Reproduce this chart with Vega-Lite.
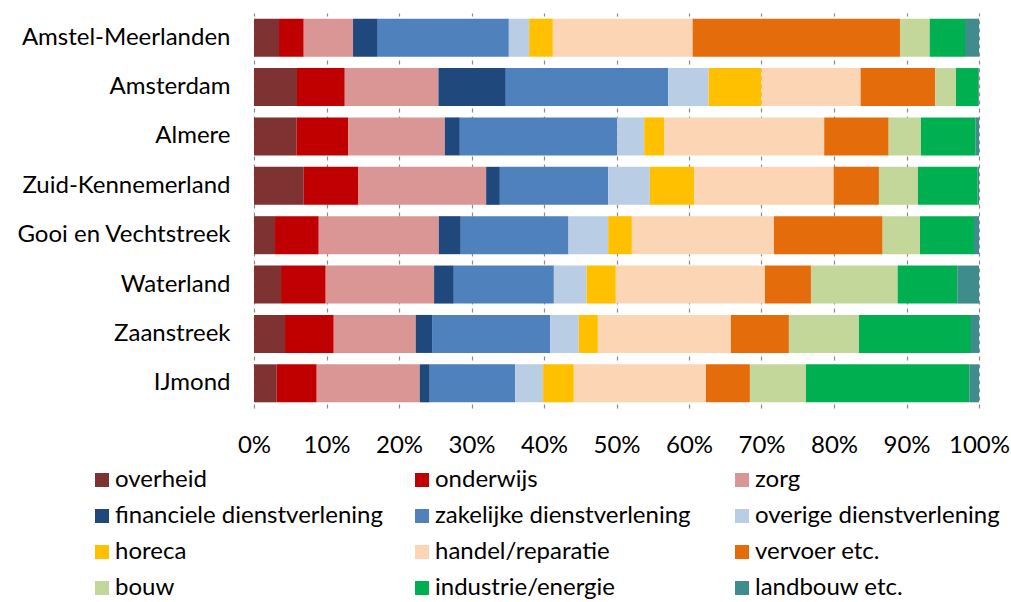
{
  "$schema": "https://vega.github.io/schema/vega-lite/v6.json",
  "autosize": {"type": "none"},
  "padding": {"left": 254, "top": 13, "right": 32, "bottom": 194},
  "width": 725,
  "height": 395,
  "background": "white",
  "config": {
    "font": "Lato",
    "view": {"stroke": null},
    "axis": {"labelFont": "Lato", "labelColor": "#000000"}
  },
  "data": {
    "values": [
      {"region": "Amstel-Meerlanden", "cat": "overheid", "k": 1, "v": 3.45},
      {"region": "Amstel-Meerlanden", "cat": "onderwijs", "k": 2, "v": 3.41},
      {"region": "Amstel-Meerlanden", "cat": "zorg", "k": 3, "v": 6.8},
      {"region": "Amstel-Meerlanden", "cat": "financiele dienstverlening", "k": 4, "v": 3.41},
      {"region": "Amstel-Meerlanden", "cat": "zakelijke dienstverlening", "k": 5, "v": 18.08},
      {"region": "Amstel-Meerlanden", "cat": "overige dienstverlening", "k": 6, "v": 2.8},
      {"region": "Amstel-Meerlanden", "cat": "horeca", "k": 7, "v": 3.27},
      {"region": "Amstel-Meerlanden", "cat": "handel/reparatie", "k": 8, "v": 19.28},
      {"region": "Amstel-Meerlanden", "cat": "vervoer etc.", "k": 9, "v": 28.6},
      {"region": "Amstel-Meerlanden", "cat": "bouw", "k": 10, "v": 4.1},
      {"region": "Amstel-Meerlanden", "cat": "industrie/energie", "k": 11, "v": 4.87},
      {"region": "Amstel-Meerlanden", "cat": "landbouw etc.", "k": 12, "v": 1.93},

      {"region": "Amsterdam", "cat": "overheid", "k": 1, "v": 5.93},
      {"region": "Amsterdam", "cat": "onderwijs", "k": 2, "v": 6.59},
      {"region": "Amsterdam", "cat": "zorg", "k": 3, "v": 12.92},
      {"region": "Amsterdam", "cat": "financiele dienstverlening", "k": 4, "v": 9.29},
      {"region": "Amsterdam", "cat": "zakelijke dienstverlening", "k": 5, "v": 22.4},
      {"region": "Amsterdam", "cat": "overige dienstverlening", "k": 6, "v": 5.57},
      {"region": "Amsterdam", "cat": "horeca", "k": 7, "v": 7.3},
      {"region": "Amsterdam", "cat": "handel/reparatie", "k": 8, "v": 13.67},
      {"region": "Amsterdam", "cat": "vervoer etc.", "k": 9, "v": 10.3},
      {"region": "Amsterdam", "cat": "bouw", "k": 10, "v": 2.86},
      {"region": "Amsterdam", "cat": "industrie/energie", "k": 11, "v": 3.07},
      {"region": "Amsterdam", "cat": "landbouw etc.", "k": 12, "v": 0.1},

      {"region": "Almere", "cat": "overheid", "k": 1, "v": 5.89},
      {"region": "Almere", "cat": "onderwijs", "k": 2, "v": 7.08},
      {"region": "Almere", "cat": "zorg", "k": 3, "v": 13.35},
      {"region": "Almere", "cat": "financiele dienstverlening", "k": 4, "v": 2.07},
      {"region": "Almere", "cat": "zakelijke dienstverlening", "k": 5, "v": 21.69},
      {"region": "Almere", "cat": "overige dienstverlening", "k": 6, "v": 3.74},
      {"region": "Almere", "cat": "horeca", "k": 7, "v": 2.76},
      {"region": "Almere", "cat": "handel/reparatie", "k": 8, "v": 22.07},
      {"region": "Almere", "cat": "vervoer etc.", "k": 9, "v": 8.89},
      {"region": "Almere", "cat": "bouw", "k": 10, "v": 4.45},
      {"region": "Almere", "cat": "industrie/energie", "k": 11, "v": 7.55},
      {"region": "Almere", "cat": "landbouw etc.", "k": 12, "v": 0.46},

      {"region": "Zuid-Kennemerland", "cat": "overheid", "k": 1, "v": 6.86},
      {"region": "Zuid-Kennemerland", "cat": "onderwijs", "k": 2, "v": 7.55},
      {"region": "Zuid-Kennemerland", "cat": "zorg", "k": 3, "v": 17.61},
      {"region": "Zuid-Kennemerland", "cat": "financiele dienstverlening", "k": 4, "v": 1.89},
      {"region": "Zuid-Kennemerland", "cat": "zakelijke dienstverlening", "k": 5, "v": 14.94},
      {"region": "Zuid-Kennemerland", "cat": "overige dienstverlening", "k": 6, "v": 5.75},
      {"region": "Zuid-Kennemerland", "cat": "horeca", "k": 7, "v": 6.11},
      {"region": "Zuid-Kennemerland", "cat": "handel/reparatie", "k": 8, "v": 19.24},
      {"region": "Zuid-Kennemerland", "cat": "vervoer etc.", "k": 9, "v": 6.25},
      {"region": "Zuid-Kennemerland", "cat": "bouw", "k": 10, "v": 5.38},
      {"region": "Zuid-Kennemerland", "cat": "industrie/energie", "k": 11, "v": 8.24},
      {"region": "Zuid-Kennemerland", "cat": "landbouw etc.", "k": 12, "v": 0.18},

      {"region": "Gooi en Vechtstreek", "cat": "overheid", "k": 1, "v": 2.9},
      {"region": "Gooi en Vechtstreek", "cat": "onderwijs", "k": 2, "v": 6.03},
      {"region": "Gooi en Vechtstreek", "cat": "zorg", "k": 3, "v": 16.56},
      {"region": "Gooi en Vechtstreek", "cat": "financiele dienstverlening", "k": 4, "v": 3.03},
      {"region": "Gooi en Vechtstreek", "cat": "zakelijke dienstverlening", "k": 5, "v": 14.86},
      {"region": "Gooi en Vechtstreek", "cat": "overige dienstverlening", "k": 6, "v": 5.47},
      {"region": "Gooi en Vechtstreek", "cat": "horeca", "k": 7, "v": 3.27},
      {"region": "Gooi en Vechtstreek", "cat": "handel/reparatie", "k": 8, "v": 19.59},
      {"region": "Gooi en Vechtstreek", "cat": "vervoer etc.", "k": 9, "v": 15.0},
      {"region": "Gooi en Vechtstreek", "cat": "bouw", "k": 10, "v": 5.15},
      {"region": "Gooi en Vechtstreek", "cat": "industrie/energie", "k": 11, "v": 7.45},
      {"region": "Gooi en Vechtstreek", "cat": "landbouw etc.", "k": 12, "v": 0.69},

      {"region": "Waterland", "cat": "overheid", "k": 1, "v": 3.73},
      {"region": "Waterland", "cat": "onderwijs", "k": 2, "v": 6.16},
      {"region": "Waterland", "cat": "zorg", "k": 3, "v": 14.95},
      {"region": "Waterland", "cat": "financiele dienstverlening", "k": 4, "v": 2.72},
      {"region": "Waterland", "cat": "zakelijke dienstverlening", "k": 5, "v": 13.8},
      {"region": "Waterland", "cat": "overige dienstverlening", "k": 6, "v": 4.51},
      {"region": "Waterland", "cat": "horeca", "k": 7, "v": 4.04},
      {"region": "Waterland", "cat": "handel/reparatie", "k": 8, "v": 20.56},
      {"region": "Waterland", "cat": "vervoer etc.", "k": 9, "v": 6.35},
      {"region": "Waterland", "cat": "bouw", "k": 10, "v": 11.96},
      {"region": "Waterland", "cat": "industrie/energie", "k": 11, "v": 8.22},
      {"region": "Waterland", "cat": "landbouw etc.", "k": 12, "v": 3.0},

      {"region": "Zaanstreek", "cat": "overheid", "k": 1, "v": 4.28},
      {"region": "Zaanstreek", "cat": "onderwijs", "k": 2, "v": 6.72},
      {"region": "Zaanstreek", "cat": "zorg", "k": 3, "v": 11.31},
      {"region": "Zaanstreek", "cat": "financiele dienstverlening", "k": 4, "v": 2.25},
      {"region": "Zaanstreek", "cat": "zakelijke dienstverlening", "k": 5, "v": 16.28},
      {"region": "Zaanstreek", "cat": "overige dienstverlening", "k": 6, "v": 3.96},
      {"region": "Zaanstreek", "cat": "horeca", "k": 7, "v": 2.63},
      {"region": "Zaanstreek", "cat": "handel/reparatie", "k": 8, "v": 18.35},
      {"region": "Zaanstreek", "cat": "vervoer etc.", "k": 9, "v": 8.0},
      {"region": "Zaanstreek", "cat": "bouw", "k": 10, "v": 9.66},
      {"region": "Zaanstreek", "cat": "industrie/energie", "k": 11, "v": 15.46},
      {"region": "Zaanstreek", "cat": "landbouw etc.", "k": 12, "v": 1.1},

      {"region": "IJmond", "cat": "overheid", "k": 1, "v": 3.13},
      {"region": "IJmond", "cat": "onderwijs", "k": 2, "v": 5.52},
      {"region": "IJmond", "cat": "zorg", "k": 3, "v": 14.21},
      {"region": "IJmond", "cat": "financiele dienstverlening", "k": 4, "v": 1.38},
      {"region": "IJmond", "cat": "zakelijke dienstverlening", "k": 5, "v": 11.78},
      {"region": "IJmond", "cat": "overige dienstverlening", "k": 6, "v": 3.86},
      {"region": "IJmond", "cat": "horeca", "k": 7, "v": 4.23},
      {"region": "IJmond", "cat": "handel/reparatie", "k": 8, "v": 18.22},
      {"region": "IJmond", "cat": "vervoer etc.", "k": 9, "v": 6.07},
      {"region": "IJmond", "cat": "bouw", "k": 10, "v": 7.73},
      {"region": "IJmond", "cat": "industrie/energie", "k": 11, "v": 22.53},
      {"region": "IJmond", "cat": "landbouw etc.", "k": 12, "v": 1.34}
    ]
  },
  "mark": {"type": "bar"},
  "encoding": {
    "y": {
      "field": "region",
      "type": "nominal",
      "sort": ["Amstel-Meerlanden", "Amsterdam", "Almere", "Zuid-Kennemerland", "Gooi en Vechtstreek", "Waterland", "Zaanstreek", "IJmond"],
      "scale": {"paddingInner": 0.23, "paddingOuter": 0.115},
      "axis": {
        "title": null,
        "domain": false,
        "ticks": false,
        "grid": false,
        "labelFontSize": 24,
        "labelPadding": 24,
        "labelLimit": 300
      }
    },
    "x": {
      "field": "v",
      "type": "quantitative",
      "stack": "normalize",
      "scale": {"domain": [0, 1], "nice": false},
      "axis": {
        "title": null,
        "orient": "bottom",
        "values": [0, 0.1, 0.2, 0.3, 0.4, 0.5, 0.6, 0.7, 0.8, 0.9, 1],
        "format": ".0%",
        "domain": false,
        "ticks": false,
        "grid": true,
        "gridColor": "#8c8c8c",
        "gridWidth": 1.2,
        "gridDash": [4, 4],
        "labelFontSize": 24,
        "labelPadding": 25,
        "labelFlush": false
      }
    },
    "color": {
      "field": "cat",
      "type": "nominal",
      "sort": ["overheid", "onderwijs", "zorg", "financiele dienstverlening", "zakelijke dienstverlening", "overige dienstverlening", "horeca", "handel/reparatie", "vervoer etc.", "bouw", "industrie/energie", "landbouw etc."],
      "scale": {
        "domain": ["overheid", "onderwijs", "zorg", "financiele dienstverlening", "zakelijke dienstverlening", "overige dienstverlening", "horeca", "handel/reparatie", "vervoer etc.", "bouw", "industrie/energie", "landbouw etc."],
        "range": ["#7F3232", "#C00000", "#DA9694", "#1F497D", "#4F81BD", "#B9CDE5", "#FFC000", "#FCD5B5", "#E46C0A", "#C4D79B", "#00B050", "#3F8C8C"]
      },
      "legend": {
        "title": null,
        "orient": "none",
        "legendX": -164,
        "legendY": 455,
        "direction": "horizontal",
        "columns": 3,
        "gridAlign": "all",
        "symbolType": "square",
        "symbolSize": 196,
        "symbolStrokeWidth": 0,
        "labelFontSize": 24,
        "labelFont": "Lato",
        "labelColor": "#000000",
        "labelOffset": 1,
        "labelLimit": 400,
        "rowPadding": 12,
        "columnPadding": 27,
        "padding": 0
      }
    },
    "order": {"field": "k", "type": "quantitative"}
  }
}
